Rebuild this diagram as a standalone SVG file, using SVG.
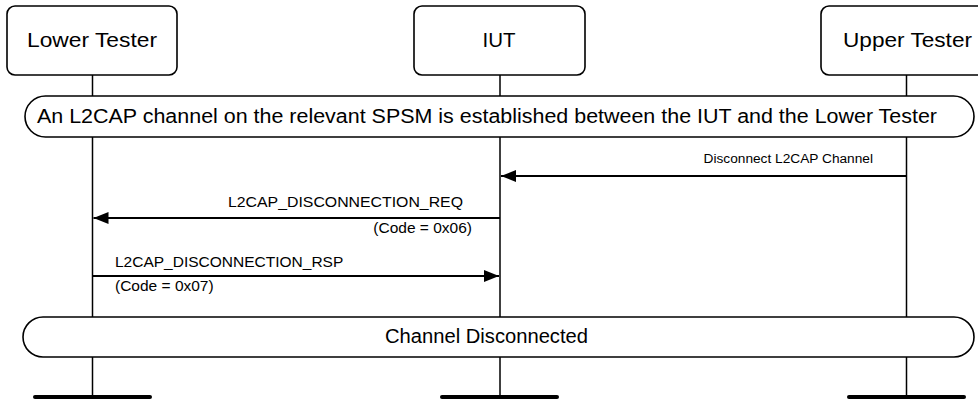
<svg xmlns="http://www.w3.org/2000/svg" width="978" height="403" viewBox="0 0 978 403">
<defs>
<style>
.box{fill:#fff;stroke:#000;stroke-width:1.6}
.life{stroke:#000;stroke-width:1.5;fill:none}
.foot{stroke:#000;stroke-width:4;stroke-linecap:round}
.msg{stroke:#000;stroke-width:2;fill:none}
.t{font-family:"Liberation Sans",Arial,sans-serif;fill:#000}
.h{font-size:21px;text-anchor:middle}
.c{font-size:20px;text-anchor:middle}
.m{font-size:15.5px}
.s{font-size:13.7px}
</style>
<marker id="ah" markerUnits="userSpaceOnUse" markerWidth="16" markerHeight="14" refX="15" refY="6" orient="auto">
<path d="M0,0 L15,6 L0,12 Z" fill="#000"/>
</marker>
</defs>
<rect width="978" height="403" fill="#fff"/>
<g id="lifelines">
<line class="life" x1="92.5" y1="75" x2="92.5" y2="397"/>
<line class="life" x1="500" y1="75" x2="500" y2="397"/>
<line class="life" x1="906.5" y1="75" x2="906.5" y2="397"/>
<line class="foot" x1="35" y1="397" x2="150" y2="397"/>
<line class="foot" x1="442" y1="397" x2="557" y2="397"/>
<line class="foot" x1="849" y1="397" x2="964" y2="397"/>
</g>
<g id="lower-tester">
<rect class="box" x="7" y="6" width="170" height="69" rx="8"/>
<text class="t h" x="92" y="47" textLength="130" lengthAdjust="spacingAndGlyphs">Lower Tester</text>
</g>
<g id="iut">
<rect class="box" x="414" y="6" width="171" height="69" rx="8"/>
<text class="t h" x="499" y="47" textLength="33" lengthAdjust="spacingAndGlyphs">IUT</text>
</g>
<g id="upper-tester">
<rect class="box" x="821" y="6" width="172" height="69" rx="8"/>
<text class="t h" x="907.5" y="47" textLength="129" lengthAdjust="spacingAndGlyphs">Upper Tester</text>
</g>
<g id="state-established">
<rect class="box" x="25" y="96" width="949" height="41" rx="20.5"/>
<text class="t" font-size="20" x="37" y="123" textLength="900" lengthAdjust="spacingAndGlyphs">An L2CAP channel on the relevant SPSM is established between the IUT and the Lower Tester</text>
</g>
<g id="state-disconnected">
<rect class="box" x="23" y="317" width="951" height="40" rx="20"/>
<text class="t c" x="486.5" y="343" textLength="203" lengthAdjust="spacingAndGlyphs">Channel Disconnected</text>
</g>
<g id="connectors">
<line class="msg" x1="906.5" y1="176" x2="501" y2="176" marker-end="url(#ah)"/>
<text class="t s" x="873" y="163" text-anchor="end">Disconnect L2CAP Channel</text>
<line class="msg" x1="500" y1="218" x2="93.5" y2="218" marker-end="url(#ah)"/>
<text class="t m" x="463" y="207" text-anchor="end" textLength="235" lengthAdjust="spacingAndGlyphs">L2CAP_DISCONNECTION_REQ</text>
<text class="t m" x="472" y="233" text-anchor="end">(Code = 0x06)</text>
<line class="msg" x1="92.5" y1="276" x2="499" y2="276" marker-end="url(#ah)"/>
<text class="t m" x="115" y="267">L2CAP_DISCONNECTION_RSP</text>
<text class="t m" x="115" y="291">(Code = 0x07)</text>
</g>
</svg>
